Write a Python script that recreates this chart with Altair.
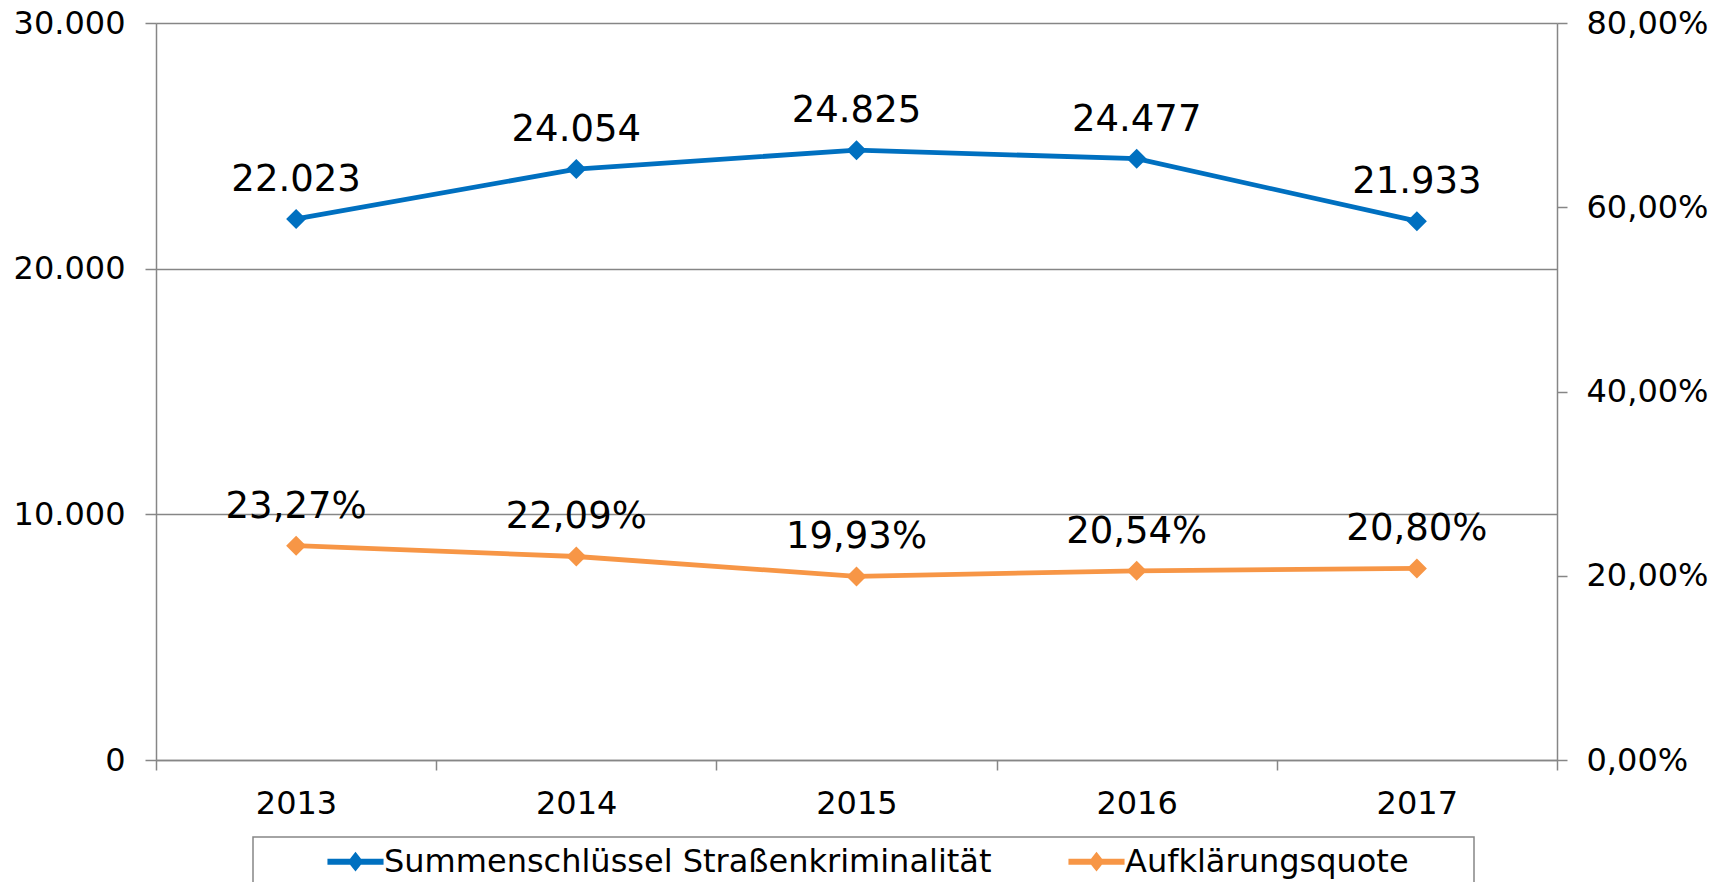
import altair as alt
import pandas as pd

# ---- data ----
YEARS = [2013, 2014, 2015, 2016, 2017]
SERIES = ["Summenschlüssel Straßenkriminalität", "Aufklärungsquote"]
COUNTS = [22023, 24054, 24825, 24477, 21933]
QUOTE = [0.2327, 0.2209, 0.1993, 0.2054, 0.2080]
LEFT_TICKS = [0, 10000, 20000, 30000]
RIGHT_TICKS = [0.0, 0.2, 0.4, 0.6, 0.8]
COLORS = ["#0070C0", "#F79646"]

GRAY = "#868686"
FONT = "DejaVu Sans"

X_EDGES = [y - 0.5 for y in YEARS] + [YEARS[-1] + 0.5]

df_a = pd.DataFrame({
    "year": YEARS,
    "series": SERIES[0],
    "value": COUNTS,
    "label": [f"{v:,}".replace(",", ".") for v in COUNTS],
})
df_b = pd.DataFrame({
    "year": YEARS,
    "series": SERIES[1],
    "value": QUOTE,
    "label": [f"{v * 100:.2f}".replace(".", ",") + "%" for v in QUOTE],
})

x_enc = alt.X(
    "year:Q",
    scale=alt.Scale(domain=[X_EDGES[0], X_EDGES[-1]], nice=False, zero=False),
    axis=alt.Axis(
        values=X_EDGES,
        labelExpr="datum.value < 2017 ? toString(datum.value + 0.5) : ''",
        labelOffset=140,
        labelFlush=False,
        labelOverlap=False,
        grid=False,
        tickSize=10,
        tickColor=GRAY,
        tickWidth=1.5,
        domainColor=GRAY,
        domainWidth=1.5,
        labelPadding=18,
        labelFont=FONT,
        labelFontSize=32,
        labelColor="black",
        title=None,
    ),
)

legend = alt.Legend(
    title=None,
    orient="none",
    legendX=171,
    legendY=810,
    direction="horizontal",
    symbolType="M-1.1,0L1.1,0M0,-0.198L0.157,0L0,0.198L-0.157,0Z",
    symbolSize=2601,
    symbolStrokeWidth=6,
    symbolOpacity=1,
    labelFont=FONT,
    labelFontSize=32,
    labelColor="black",
    labelLimit=2000,
    labelOffset=0,
    columnPadding=64,
    padding=0,
)

color_enc = alt.Color(
    "series:N",
    scale=alt.Scale(domain=SERIES, range=COLORS),
    legend=legend,
)

point_def = alt.OverlayMarkDef(shape="diamond", filled=True, size=400, opacity=1)

y_left = alt.Y(
    "value:Q",
    scale=alt.Scale(domain=[0, 30000], nice=False),
    axis=alt.Axis(
        orient="left",
        values=LEFT_TICKS,
        labelExpr="replace(format(datum.value, ',.0f'), ',', '.')",
        grid=True,
        gridColor=GRAY,
        gridWidth=1.5,
        tickSize=11,
        tickColor=GRAY,
        tickWidth=1.5,
        domainColor=GRAY,
        domainWidth=1.5,
        labelPadding=20,
        labelFont=FONT,
        labelFontSize=32,
        labelColor="black",
        title=None,
    ),
)

y_right = alt.Y(
    "value:Q",
    scale=alt.Scale(domain=[0, 0.8], nice=False),
    axis=alt.Axis(
        orient="right",
        values=RIGHT_TICKS,
        labelExpr="replace(format(datum.value, '.2%'), '.', ',')",
        grid=False,
        tickSize=10,
        tickColor=GRAY,
        tickWidth=1.5,
        domainColor=GRAY,
        domainWidth=1.5,
        labelPadding=19,
        labelFont=FONT,
        labelFontSize=32,
        labelColor="black",
        title=None,
    ),
)

line_a = alt.Chart(df_a).mark_line(strokeWidth=4.8, point=point_def).encode(
    x=x_enc, y=y_left, color=color_enc
)
text_a = alt.Chart(df_a).mark_text(
    dy=-28, fontSize=37, font=FONT, baseline="alphabetic", align="center", color="black"
).encode(x=x_enc, y=y_left, text="label:N")

line_b = alt.Chart(df_b).mark_line(strokeWidth=4.8, point=point_def).encode(
    x=x_enc, y=y_right, color=color_enc
)
text_b = alt.Chart(df_b).mark_text(
    dy=-28, fontSize=37, font=FONT, baseline="alphabetic", align="center", color="black"
).encode(x=x_enc, y=y_right, text="label:N")

frame = alt.Chart(pd.DataFrame({"a": [0]})).mark_rect(
    fillOpacity=0, stroke=GRAY, strokeWidth=1.5
).encode(
    x=alt.value(97), x2=alt.value(1318), y=alt.value(814), y2=alt.value(900)
)

layer_a = alt.layer(line_a, text_a)
layer_b = alt.layer(line_b, text_b)

chart = (
    alt.layer(frame, layer_a, layer_b)
    .resolve_scale(y="independent")
    .properties(
        width=1401,
        height=737,
        autosize=alt.AutoSizeParams(type="none"),
        padding={"left": 148, "top": 15, "right": 160, "bottom": 122},
    )
    .configure_view(strokeWidth=0)
    .configure(font=FONT)
)

chart.save("out.html", embed_options={"renderer": "svg", "actions": False})
